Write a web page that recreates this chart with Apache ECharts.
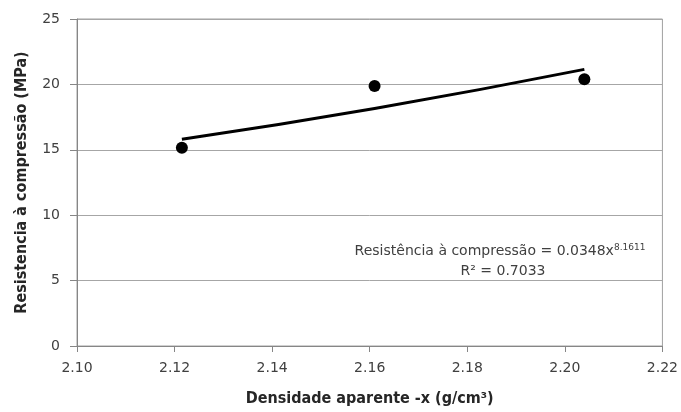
<!DOCTYPE html>
<html><head><meta charset="utf-8">
<script src="https://cdn.jsdelivr.net/npm/echarts@6/dist/echarts.min.js"></script>
<style>html,body{margin:0;padding:0;background:#fff}#c{width:681px;height:412px}</style>
</head><body><div id="c"></div>
<script>
const densidade = [2.1215, 2.161, 2.204];
const resistencia = [15.15, 19.87, 20.40];
const trendX = [2.1215, 2.161, 2.204];
const trendY = [15.81, 18.16, 21.15];
const xTitle = 'Densidade aparente -x (g/cm³)';
const yTitle = 'Resistencia à compressão (MPa)';
const eqText = 'Resistência à compressão = 0.0348x';
const eqExp = '8.1611';
const r2Text = 'R² = 0.7033';
const FONT = "'DejaVu Sans','Liberation Sans',sans-serif";
const FONTC = "'DejaVu Sans Condensed','DejaVu Sans',sans-serif";

const chart = echarts.init(document.getElementById('c'));
chart.setOption({
  animation: false,
  backgroundColor: '#fff',
  grid: {left: 77, right: 16, top: 19, bottom: 66, show: true, borderColor: '#a0a0a0', borderWidth: 1},
  xAxis: {
    type: 'value', min: 2.10, max: 2.22, interval: 0.02,
    name: xTitle, nameLocation: 'middle', nameGap: 45,
    nameTextStyle: {fontFamily: FONTC, fontSize: 16, fontWeight: 'bold', color: '#262626'},
    axisLine: {lineStyle: {color: '#868686'}},
    axisTick: {show: true, length: 6, lineStyle: {color: '#868686'}},
    axisLabel: {fontFamily: FONT, fontSize: 14, color: '#404040', margin: 15, formatter: v => v.toFixed(2)},
    splitLine: {show: false}
  },
  yAxis: {
    type: 'value', min: 0, max: 25, interval: 5,
    name: yTitle, nameLocation: 'middle', nameGap: 47, nameRotate: 90,
    nameTextStyle: {fontFamily: FONTC, fontSize: 16, fontWeight: 'bold', color: '#262626'},
    axisLine: {show: true, lineStyle: {color: '#868686'}},
    axisTick: {show: true, length: 7, lineStyle: {color: '#868686'}},
    axisLabel: {fontFamily: FONT, fontSize: 14, color: '#404040', margin: 17},
    splitLine: {show: true, lineStyle: {color: '#a6a6a6', width: 1}}
  },
  series: [
    {type: 'line', data: trendX.map((x, i) => [x, trendY[i]]), smooth: true, showSymbol: false,
     lineStyle: {color: '#000', width: 3}, z: 2},
    {type: 'scatter', data: densidade.map((x, i) => [x, resistencia[i]]), symbolSize: 12,
     itemStyle: {color: '#000', opacity: 1}, z: 3}
  ],
  graphic: [
    {type: 'text', x: 500, y: 243, style: {
      textAlign: 'center',
      rich: {a: {fontFamily: FONT, fontSize: 14, fill: '#404040'}, s: {fontFamily: FONT, fontSize: 9, fill: '#404040', verticalAlign: 'top', padding:[0,0,8,0]}},
      text: '{a|' + eqText + '}{s|' + eqExp + '}'
    }},
    {type: 'text', x: 503, y: 264, style: {textAlign: 'center', fontFamily: FONT, fontSize: 14, fill: '#404040', text: r2Text}}
  ]
});
</script></body></html>
